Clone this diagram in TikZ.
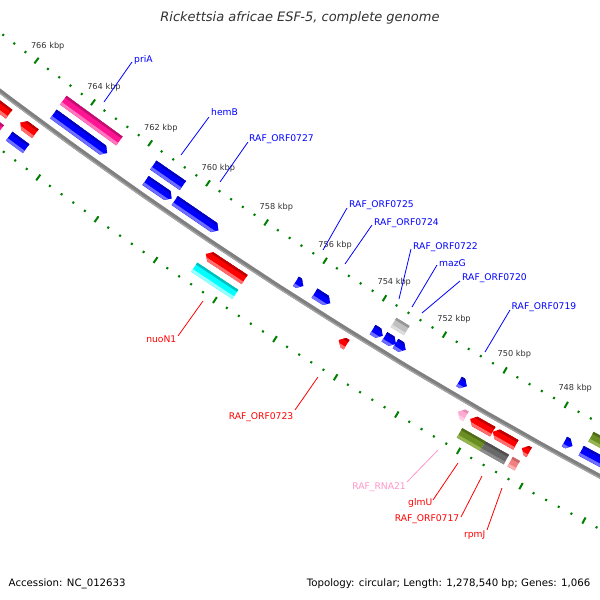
\documentclass[tikz,border=0pt]{standalone}
\usepackage{fontspec}
\setmainfont{DejaVu Sans}
\definecolor{bluM}{RGB}{0,0,255}
\definecolor{bluL}{RGB}{110,110,255}
\definecolor{bluD}{RGB}{0,0,190}
\definecolor{pnkM}{RGB}{255,20,147}
\definecolor{pnkL}{RGB}{255,120,190}
\definecolor{pnkD}{RGB}{190,15,110}
\definecolor{redM}{RGB}{255,0,0}
\definecolor{redL}{RGB}{255,110,110}
\definecolor{redD}{RGB}{190,0,0}
\definecolor{cynM}{RGB}{0,255,255}
\definecolor{cynL}{RGB}{150,255,255}
\definecolor{cynD}{RGB}{0,190,190}
\definecolor{gryM}{RGB}{192,192,192}
\definecolor{gryL}{RGB}{220,220,220}
\definecolor{gryD}{RGB}{150,150,150}
\definecolor{olvM}{RGB}{107,142,35}
\definecolor{olvL}{RGB}{150,180,80}
\definecolor{olvD}{RGB}{80,107,26}
\definecolor{dgyM}{RGB}{105,105,105}
\definecolor{dgyL}{RGB}{140,140,140}
\definecolor{dgyD}{RGB}{80,80,80}
\definecolor{corM}{RGB}{240,128,128}
\definecolor{corL}{RGB}{250,175,175}
\definecolor{corD}{RGB}{200,100,100}
\definecolor{lpkM}{RGB}{255,170,210}
\definecolor{lpkL}{RGB}{255,205,230}
\definecolor{lpkD}{RGB}{230,140,180}
\definecolor{tickG}{RGB}{0,128,0}
\definecolor{bbG}{RGB}{128,128,128}
\definecolor{bbL}{RGB}{165,165,165}
\definecolor{lblB}{RGB}{0,0,255}
\definecolor{lblR}{RGB}{255,0,0}
\definecolor{lblP}{RGB}{255,150,200}
\definecolor{txtG}{RGB}{50,50,50}

% tracks (radii)
\def\UtwoI{4614}\def\UtwoO{4625}
\def\UoneI{4631}\def\UoneO{4642}
\def\LoneI{4657.5}\def\LoneO{4668.5}
\def\LtwoI{4675}\def\LtwoO{4686}

\newcommand\feat[6]{%
\pgfmathsetmacro\aL{126.97+0.4372*(#1-766)}%
\pgfmathsetmacro\aR{126.97+0.4372*(#2-766)}%
\pgfmathsetmacro\rI{#3}%
\pgfmathsetmacro\rO{#4}%
\pgfmathsetmacro\rM{(#3+#4)/2}%
\pgfmathsetmacro\aLh{\aL-0.0656}%
\pgfmathsetmacro\aRh{\aR+0.0656}%
\pgfmathsetmacro\fspan{\aL-\aR}%
\ifcase#5
 \def\fpath{(\aL:\rI) -- (\aR:\rI) -- (\aR:\rO) -- (\aL:\rO) -- cycle}%
\or
 \ifdim\fspan pt>0.08pt
   \def\fpath{(\aL:\rI) -- (\aRh:\rI) -- (\aR:\rM) -- (\aRh:\rO) -- (\aL:\rO) -- cycle}%
 \else
   \def\fpath{(\aL:\rI) -- (\aR:\rM) -- (\aL:\rO) -- cycle}%
 \fi
\or
 \ifdim\fspan pt>0.08pt
   \def\fpath{(\aL:\rM) -- (\aLh:\rI) -- (\aR:\rI) -- (\aR:\rO) -- (\aLh:\rO) -- cycle}%
 \else
   \def\fpath{(\aL:\rM) -- (\aR:\rI) -- (\aR:\rO) -- cycle}%
 \fi
\fi
\fill[#6M] \fpath;
\begin{scope}
 \clip \fpath;
 \pgfmathsetmacro\rOa{\rO-3}%
 \pgfmathsetmacro\rIa{\rI+2.5}%
 \pgfmathsetmacro\aLx{\aL+0.2}%
 \pgfmathsetmacro\aRx{\aR-0.2}%
 \fill[#6L] (\aLx:\rOa) -- (\aRx:\rOa) -- (\aRx:\rO) -- (\aLx:\rO) -- cycle;
 \fill[#6D] (\aLx:\rI) -- (\aRx:\rI) -- (\aRx:\rIa) -- (\aLx:\rIa) -- cycle;
\end{scope}
}

\begin{document}
\begin{tikzpicture}[x=1pt,y=-1pt,
  glbl/.style={font=\fontsize{9.2}{11}\selectfont, inner sep=0pt},
  klbl/.style={font=\fontsize{8.2}{10}\selectfont, inner sep=0pt, text=txtG},
  leadB/.style={draw=lblB, line width=0.8pt},
  leadR/.style={draw=lblR, line width=0.8pt},
  leadP/.style={draw=lblP, line width=0.8pt}]
\useasboundingbox (0,0) rectangle (600,600);
\fill[white] (0,0) rectangle (600,600);

\begin{scope}
\clip (0,0) rectangle (600,600);
\begin{scope}[shift={(2805.05,-3617.35)}]
 % backbone
 \draw[bbG, line width=4.5pt] plot[domain=128.4:117.4, samples=45] (\x:4650);
 \draw[bbL, line width=1.2pt] plot[domain=128.4:117.4, samples=45] (\x:4651.6);
 % ticks
 \foreach \j in {-3,...,58}{%
  \pgfmathsetmacro\ta{126.97+0.4372*(746+0.4*\j-766)}%
  \pgfmathtruncatemacro\mj{mod(\j+100,5)}%
  \ifnum\mj=0
    \draw[tickG, line width=2pt] (\ta:4600) -- (\ta:4607);
    \draw[tickG, line width=2pt] (\ta:4693) -- (\ta:4700);
  \else
    \draw[tickG, line width=2pt] (\ta:4602.4) -- (\ta:4604.6);
    \draw[tickG, line width=2pt] (\ta:4695.4) -- (\ta:4697.6);
  \fi
 }
 \foreach \kv in {748,750,...,766}{%
  \pgfmathsetmacro\ta{126.97+0.4372*(\kv-766)}%
  \node[klbl] (k\kv) at (\ta:4585) {\kv\ kbp};
 }
 % upper features
 \feat{764.72}{762.75}{\UtwoI}{\UtwoO}{0}{pnk}
 \feat{764.71}{762.83}{\UoneI}{\UoneO}{1}{blu}
 \feat{761.57}{760.55}{\UtwoI}{\UtwoO}{0}{blu}
 \feat{761.5}{760.6}{\UoneI}{\UoneO}{1}{blu}
 \feat{760.5}{759.0}{\UoneI}{\UoneO}{1}{blu}
 \feat{756.38}{756.13}{\UoneI}{\UoneO}{1}{blu}
 \feat{755.76}{755.23}{\UoneI}{\UoneO}{1}{blu}
 \feat{753.82}{753.48}{\UoneI}{\UoneO}{1}{blu}
 \feat{753.43}{753.04}{\UoneI}{\UoneO}{1}{blu}
 \feat{753.06}{752.72}{\UoneI}{\UoneO}{1}{blu}
 \feat{753.42}{752.98}{\UtwoI}{\UtwoO}{0}{gry}
 \feat{750.97}{750.71}{\UoneI}{\UoneO}{1}{blu}
 \feat{747.54}{747.28}{\UoneI}{\UoneO}{1}{blu}
 \feat{747.0}{745.0}{\UoneI}{\UoneO}{0}{blu}
 \feat{746.95}{745.0}{\UtwoI}{\UtwoO}{0}{olv}
 % lower features
 \feat{767.5}{765.71}{\LoneI}{\LoneO}{2}{red}
 \feat{767.5}{765.64}{\LtwoI}{\LtwoO}{0}{pnk}
 \feat{765.32}{764.79}{\LoneI}{\LoneO}{2}{red}
 \feat{765.34}{764.75}{\LtwoI}{\LtwoO}{0}{blu}
 \feat{758.93}{757.62}{\LoneI}{\LoneO}{2}{red}
 \feat{758.99}{757.61}{\LtwoI}{\LtwoO}{0}{cyn}
 \feat{754.48}{754.22}{\LoneI}{\LoneO}{2}{red}
 \feat{750.57}{750.31}{\LoneI}{\LoneO}{2}{lpk}
 \feat{750.17}{749.44}{\LoneI}{\LoneO}{2}{red}
 \feat{749.44}{748.69}{\LoneI}{\LoneO}{2}{red}
 \feat{750.23}{749.48}{\LtwoI}{\LtwoO}{0}{olv}
 \feat{749.48}{748.72}{\LtwoI}{\LtwoO}{0}{dgy}
 \feat{748.6}{748.37}{\LtwoI}{\LtwoO}{0}{cor}
 \feat{748.5}{748.26}{\LoneI}{\LoneO}{2}{red}
\end{scope}
\end{scope}

% title and footer
\node[font=\fontsize{13}{15}\selectfont\itshape, text=txtG, inner sep=0pt] (title) at (300,18) {Rickettsia africae ESF-5, complete genome};
\node[font=\fontsize{10.2}{12}\selectfont, anchor=base west, inner sep=0pt] (acc) at (8.5,586) {Accession: NC\_012633};
\node[font=\fontsize{10.2}{12}\selectfont, anchor=base east, inner sep=0pt] (topo) at (590.5,586) {Topology: circular; Length: 1,278,540 bp; Genes: 1,066};

% gene labels (upper, blue)
\node[glbl, text=lblB, anchor=base west] (lpriA) at (134,62) {priA};
\node[glbl, text=lblB, anchor=base west] (lhemB) at (211,115) {hemB};
\node[glbl, text=lblB, anchor=base west] (l0727) at (249,141) {RAF\_ORF0727};
\node[glbl, text=lblB, anchor=base west] (l0725) at (349,207) {RAF\_ORF0725};
\node[glbl, text=lblB, anchor=base west] (l0724) at (374,225) {RAF\_ORF0724};
\node[glbl, text=lblB, anchor=base west] (l0722) at (413,249) {RAF\_ORF0722};
\node[glbl, text=lblB, anchor=base west] (lmazG) at (439,266) {mazG};
\node[glbl, text=lblB, anchor=base west] (l0720) at (462,280) {RAF\_ORF0720};
\node[glbl, text=lblB, anchor=base west] (l0719) at (511.5,309) {RAF\_ORF0719};
% gene labels (lower)
\node[glbl, text=lblR, anchor=base east] (lnuoN1) at (176.5,342) {nuoN1};
\node[glbl, text=lblR, anchor=base east] (l0723) at (293.5,419) {RAF\_ORF0723};
\node[glbl, text=lblP, anchor=base east] (lRNA21) at (406,489) {RAF\_RNA21};
\node[glbl, text=lblR, anchor=base east] (lglmU) at (432.5,505) {glmU};
\node[glbl, text=lblR, anchor=base east] (l0717) at (459.5,521) {RAF\_ORF0717};
\node[glbl, text=lblR, anchor=base east] (lrpmJ) at (485.5,537) {rpmJ};

% leader coordinates
\coordinate (apriA) at (132,62);   \coordinate (bpriA) at (104,102);
\coordinate (ahemB) at (209,117);  \coordinate (bhemB) at (181,155);
\coordinate (a0727) at (248,142);  \coordinate (b0727) at (220,182);
\coordinate (a0725) at (347,208);  \coordinate (b0725) at (323,250);
\coordinate (a0724) at (372,225);  \coordinate (b0724) at (345,264);
\coordinate (a0722) at (411,249);  \coordinate (b0722) at (399,299);
\coordinate (amazG) at (437,265);  \coordinate (bmazG) at (412,307);
\coordinate (a0720) at (460,281);  \coordinate (b0720) at (422,313);
\coordinate (a0719) at (510,310);  \coordinate (b0719) at (485,352);
\coordinate (anuoN1) at (178,336); \coordinate (bnuoN1) at (203,301);
\coordinate (a0723) at (295,410);  \coordinate (b0723) at (318,377);
\coordinate (aRNA21) at (407,482); \coordinate (bRNA21) at (438,450);
\coordinate (aglmU) at (433,500);  \coordinate (bglmU) at (458,463);
\coordinate (a0717) at (461,517);  \coordinate (b0717) at (482,476);
\coordinate (arpmJ) at (487,530);  \coordinate (brpmJ) at (502,488);

\foreach \n in {priA,hemB,0727,0725,0724,0722,mazG,0720,0719}{\draw[leadB] (a\n) -- (b\n);}
\foreach \n in {nuoN1,0723,glmU,0717,rpmJ}{\draw[leadR] (a\n) -- (b\n);}
\draw[leadP] (aRNA21) -- (bRNA21);
\end{tikzpicture}
\end{document}
